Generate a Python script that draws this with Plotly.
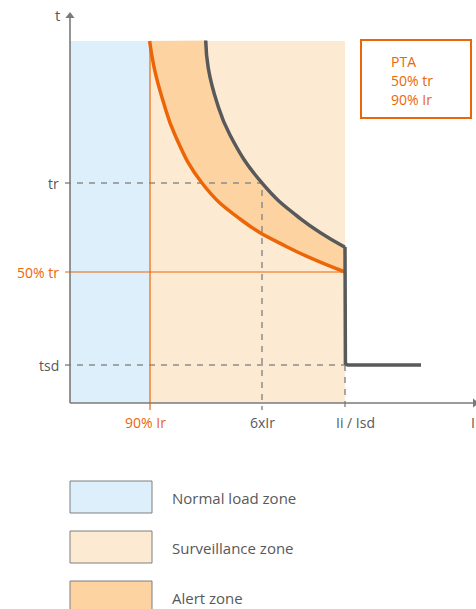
import plotly.graph_objects as go

# ---- chart data (schematic units: current I to the right, time t upward) ----
t_top = 362
I_90 = 80          # 90% Ir
I_6 = 192          # 6xIr
I_isd = 275        # Ii / Isd
I_end = 351        # end of short-time plateau
t_tr = 220         # tr
t_50 = 131         # 50% tr
t_sd = 38          # tsd

orange_I = [79.6, 84.3, 93.3, 105, 132, 170, 216.7, 275]
orange_t = [362, 334.7, 301.3, 268, 220, 184, 156.3, 131]
grey_I = [135.7, 138.3, 146.7, 160, 191.7, 230, 275]
grey_t = [362.5, 334.7, 301.3, 268, 220.3, 184.7, 155.7]
grey_tail_I = [275, 275, 275.4, 276.5, 278, 351]
grey_tail_t = [156, 42, 39.8, 38.6, 38, 38]

y_ticks = [t_tr, t_50, t_sd]
y_labels = ["tr", "50% tr", "tsd"]
x_ticks = [I_90, I_6, I_isd]
x_labels = ["90% Ir", "6xIr", "Ii / Isd"]
box_lines = ["PTA", "50% tr", "90% Ir"]
legend_names = ["Normal load zone", "Surveillance zone", "Alert zone"]

BLUE = "#DEEFFC"
PEACH = "#FDEAD3"
ALERT = "#FCD3A1"
ORANGE = "#EC6608"
DARK = "#58595B"
AXIS = "#7A7A7A"
DASH = "#8C8C8C"
TXT = "#58595B"
FONT = "Open Sans"
SMOOTH = 1.3

fig = go.Figure()

def poly(x, y, color):
    fig.add_trace(go.Scatter(x=x, y=y, fill="toself", fillcolor=color, mode="lines",
                             line=dict(width=0), hoverinfo="skip", showlegend=False))

def line(x, y, color, width, dash=None, shape="linear"):
    ln = dict(color=color, width=width, dash=dash, shape=shape)
    if shape == "spline":
        ln["smoothing"] = SMOOTH
    fig.add_trace(go.Scatter(x=x, y=y, mode="lines", hoverinfo="skip", showlegend=False, line=ln))

# zones
poly([0, I_90, I_90, 0, 0], [0, 0, t_top, t_top, 0], BLUE)
poly([I_90, I_isd, I_isd, I_90, I_90], [0, 0, t_top, t_top, 0], PEACH)

# alert zone between the two curves
fig.add_trace(go.Scatter(x=orange_I, y=orange_t, mode="lines",
                         line=dict(width=0, shape="spline", smoothing=SMOOTH),
                         hoverinfo="skip", showlegend=False))
fig.add_trace(go.Scatter(x=grey_I, y=grey_t, mode="lines", fill="tonexty", fillcolor=ALERT,
                         line=dict(width=0, shape="spline", smoothing=SMOOTH),
                         hoverinfo="skip", showlegend=False))

# guide lines
line([-5, I_6, I_6], [t_tr, t_tr, -7], DASH, 1.5, "6px,6px")
line([-5, I_isd], [t_sd, t_sd], DASH, 1.5, "6px,6px")
line([I_isd, I_isd], [t_sd, -7], DASH, 1.5, "6px,6px")
line([-5, I_isd], [t_50, t_50], ORANGE, 1.2)
line([I_90, I_90], [-7, t_top], ORANGE, 1.2)

# axes
line([0, 0], [0, 386], AXIS, 1.6)
line([0, 404], [0, 0], AXIS, 1.6)
fig.add_trace(go.Scatter(x=[0], y=[387], mode="markers", hoverinfo="skip", showlegend=False,
                         marker=dict(symbol="triangle-up", size=8, color=AXIS)))
fig.add_trace(go.Scatter(x=[405], y=[0], mode="markers", hoverinfo="skip", showlegend=False,
                         marker=dict(symbol="triangle-right", size=8, color=AXIS)))

# curves
line(orange_I, orange_t, ORANGE, 3.5, shape="spline")
line(grey_I, grey_t, DARK, 3.5, shape="spline")
line(grey_tail_I, grey_tail_t, DARK, 3.5)

ann = []
ann.append(dict(x=-8, y=388, text="t", xanchor="right", font=dict(size=15, color=TXT)))
ann.append(dict(x=403, y=-19, text="I", xanchor="center", font=dict(size=14, color=TXT)))
for v, lab in zip(y_ticks, y_labels):
    c = ORANGE if "%" in lab else TXT
    ann.append(dict(x=-9, y=v, text=lab, xanchor="right", font=dict(size=14, color=c)))
for v, lab, sh in zip(x_ticks, x_labels, [-5, 0, 10]):
    c = ORANGE if "%" in lab else TXT
    ann.append(dict(x=v, y=-19, text=lab, xanchor="center", xshift=sh, font=dict(size=14, color=c)))

# PTA box
fig.add_shape(type="rect", x0=291, x1=401, y0=285, y1=363, line=dict(color=ORANGE, width=2),
              fillcolor="rgba(0,0,0,0)")
for k, s in enumerate(box_lines):
    ann.append(dict(x=319, y=342 - 19 * k, text=s, xanchor="left", font=dict(size=14, color=ORANGE)))

# legend
for k, (name, col) in enumerate(zip(legend_names, [BLUE, PEACH, ALERT])):
    top = -78 - 50 * k
    fig.add_shape(type="rect", x0=0, x1=82, y0=top - 32, y1=top, fillcolor=col,
                  line=dict(color="#7F7F7F", width=1))
    ann.append(dict(x=100, y=top - 17, text=name, xanchor="left", font=dict(size=15, color=TXT)))

for a in ann:
    a.update(showarrow=False, xref="x", yref="y", yanchor="middle")
fig.update_layout(annotations=ann)

fig.update_layout(
    width=476, height=609,
    margin=dict(l=0, r=0, t=0, b=0),
    paper_bgcolor="white", plot_bgcolor="white",
    font=dict(family=FONT),
    xaxis=dict(range=[-70, 406], visible=False, fixedrange=True),
    yaxis=dict(range=[-206, 403], visible=False, fixedrange=True),
    showlegend=False,
)

fig.write_html("out.html", config={"displayModeBar": False},
               post_script="document.body.style.margin='0px';document.body.style.overflow='hidden';")
